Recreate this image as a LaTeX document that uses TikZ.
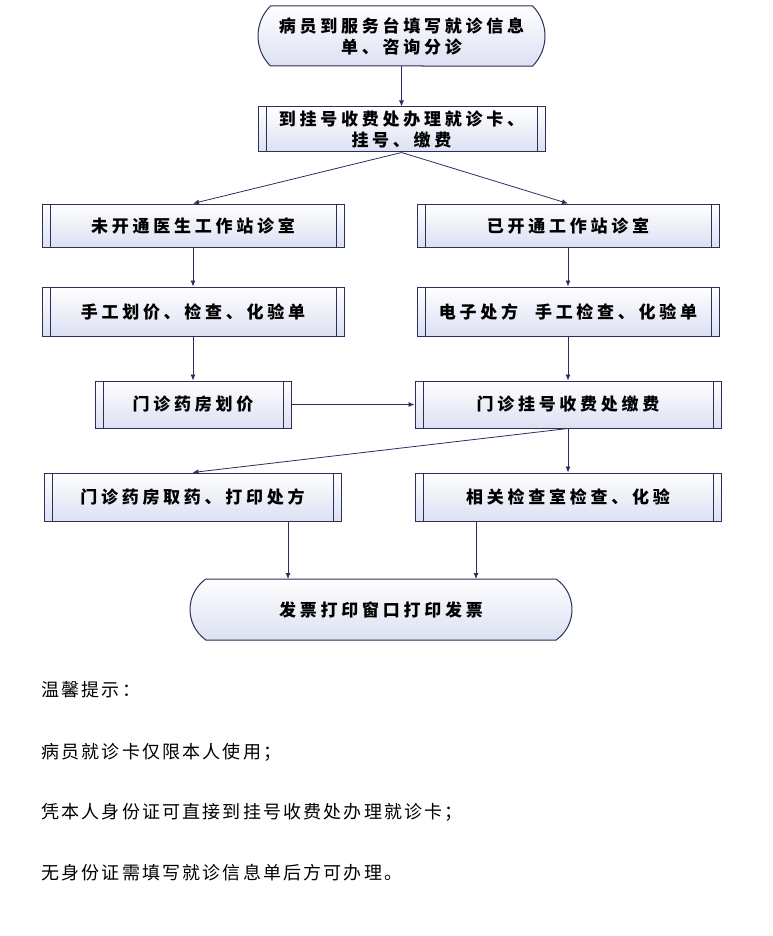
\documentclass[tikz,border=0pt]{standalone}
\usepackage{fontspec}
\setmainfont{Noto Sans CJK SC}
\newfontfamily\boxfont{Noto Sans CJK SC}[LetterSpace=22]
\newfontfamily\notefont{Noto Sans CJK SC}[LetterSpace=12]
\usetikzlibrary{shapes.misc,arrows.meta}
\definecolor{bord}{HTML}{2B2F5A}
\definecolor{fillA}{HTML}{DCE0F2}
\tikzset{
 base/.style={draw=bord,line width=1pt,top color=white,bottom color=fillA,font=\boxfont\bfseries\fontsize{17}{21}\selectfont,align=center,inner sep=0pt},
 proc/.style={base,rectangle,minimum width=#1,
   path picture={\draw[bord,line width=1pt]
     ([xshift=8pt]path picture bounding box.north west)--([xshift=8pt]path picture bounding box.south west)
     ([xshift=-8pt]path picture bounding box.north east)--([xshift=-8pt]path picture bounding box.south east);}},
 term/.style={base,rounded rectangle,rounded rectangle arc length=90,minimum width=#1},
 arr/.style={draw=bord,line width=0.8pt,-{Latex[length=6pt,width=5pt]}},
 note/.style={anchor=west,font=\notefont\fontsize{18}{20}\selectfont}
}
\begin{document}
\begin{tikzpicture}[x=1pt,y=-1pt]
\useasboundingbox[fill=white] (0,0) rectangle (772,936);
\node[term=287pt,minimum height=60pt] (t1) at (401.5,36) {病员到服务台填写就诊信息\\单、咨询分诊};
\node[proc=287pt,minimum height=45pt] (b2) at (401.5,129.5) {到挂号收费处办理就诊卡、\\挂号、缴费};
\node[proc=302pt,minimum height=43pt] (b3) at (193,225.5) {未开通医生工作站诊室};
\node[proc=302pt,minimum height=43pt] (b6) at (568,225.5) {已开通工作站诊室};
\node[proc=302pt,minimum height=49pt] (b4) at (193,311.5) {手工划价、检查、化验单};
\node[proc=302pt,minimum height=49pt] (b7) at (568,311.5) {电子处方\quad 手工检查、化验单};
\node[proc=196pt,minimum height=47pt] (b5) at (193,404.5) {门诊药房划价};
\node[proc=306pt,minimum height=47pt] (b8) at (568,404.5) {门诊挂号收费处缴费};
\node[proc=297pt,minimum height=48pt] (b9) at (192.5,497) {门诊药房取药、打印处方};
\node[proc=306pt,minimum height=48pt] (b10) at (568,497) {相关检查室检查、化验};
\node[term=382pt,minimum height=61pt,rounded rectangle arc length=110] (t2) at (381,609.5) {发票打印窗口打印发票};
\draw[arr] (t1.south) -- (b2.north);
\draw[arr] (b2.south) -- (b3.north);
\draw[arr] (b2.south) -- (b6.north);
\draw[arr] (b3) -- (b4);
\draw[arr] (b6) -- (b7);
\draw[arr] (b4) -- (b5);
\draw[arr] (b7) -- (b8);
\draw[arr] (b5) -- (b8);
\draw[arr] (b8.south) -- (b9.north);
\draw[arr] (b8) -- (b10);
\coordinate (s9) at (288,521); \coordinate (e9) at (288,579);
\draw[arr] (s9) -- (e9);
\coordinate (s10) at (476,521); \coordinate (e10) at (476,579);
\draw[arr] (s10) -- (e10);
\node[note] (n1) at (38,690) {温馨提示：};
\node[note] (n2) at (38,752) {病员就诊卡仅限本人使用；};
\node[note] (n3) at (38,812) {凭本人身份证可直接到挂号收费处办理就诊卡；};
\node[note] (n4) at (38,873) {无身份证需填写就诊信息单后方可办理。};
\end{tikzpicture}
\end{document}
